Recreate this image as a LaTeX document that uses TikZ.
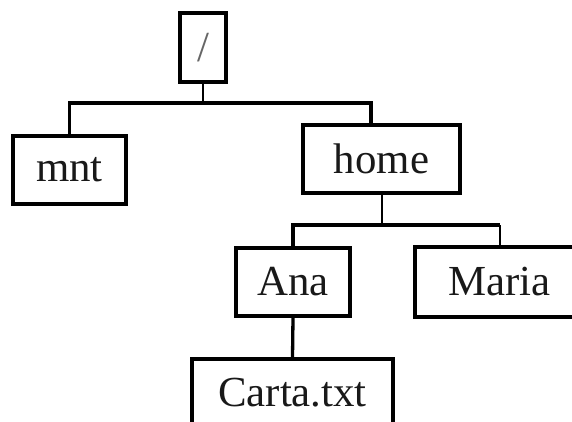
\documentclass[tikz,border=0pt]{standalone}
\usepackage{fontspec}
\setmainfont{Liberation Serif}
\begin{document}
\begin{tikzpicture}[x=1bp,y=-1bp,
  dirbox/.style={draw=black, line width=3.3bp, inner sep=0pt, font=\fontsize{43}{50}\selectfont, text=black!90},
  bar/.style={draw=black, line width=3.5bp},
  stem/.style={draw=black, line width=2bp},
  thickstem/.style={draw=black, line width=3.3bp}]
\useasboundingbox (0,0) rectangle (572,421);
\fill[white] (0,0) rectangle (572,421);
\clip (0,0) rectangle (572,421);
% nodes
\node[dirbox, minimum width=46bp, minimum height=69bp, text=black!60] (root) at (203,47.5) {/};
\node[dirbox, minimum width=113bp, minimum height=68bp] (mnt) at (69.5,170) {mnt};
\node[dirbox, minimum width=157bp, minimum height=68bp] (home) at (381.5,159) {home};
\node[dirbox, minimum width=114bp, minimum height=68bp] (ana) at (293,282) {Ana};
\node[dirbox, minimum width=169bp, minimum height=70bp] (maria) at (499.5,282) {Maria};
\node[dirbox, minimum width=201bp, minimum height=68bp] (carta) at (292.5,393) {Carta.txt};
% bar levels
\coordinate (j1) at (0,103);
\coordinate (j2) at (0,225);
\coordinate (hin) at ([xshift=-10.5bp]home.north);
% connectors
\draw[stem] (root.south) -- (root.south |- j1);
\draw[bar] (mnt.north) |- (hin |- j1) -- (hin);
\draw[stem] (home.south) -- (home.south |- j2);
\draw[bar] (ana.north) |- (maria.north |- j2);
\draw[stem] (maria.north) -- (maria.north |- j2);
\draw[thickstem] (ana.south) -- (carta.north);
\end{tikzpicture}
\end{document}
